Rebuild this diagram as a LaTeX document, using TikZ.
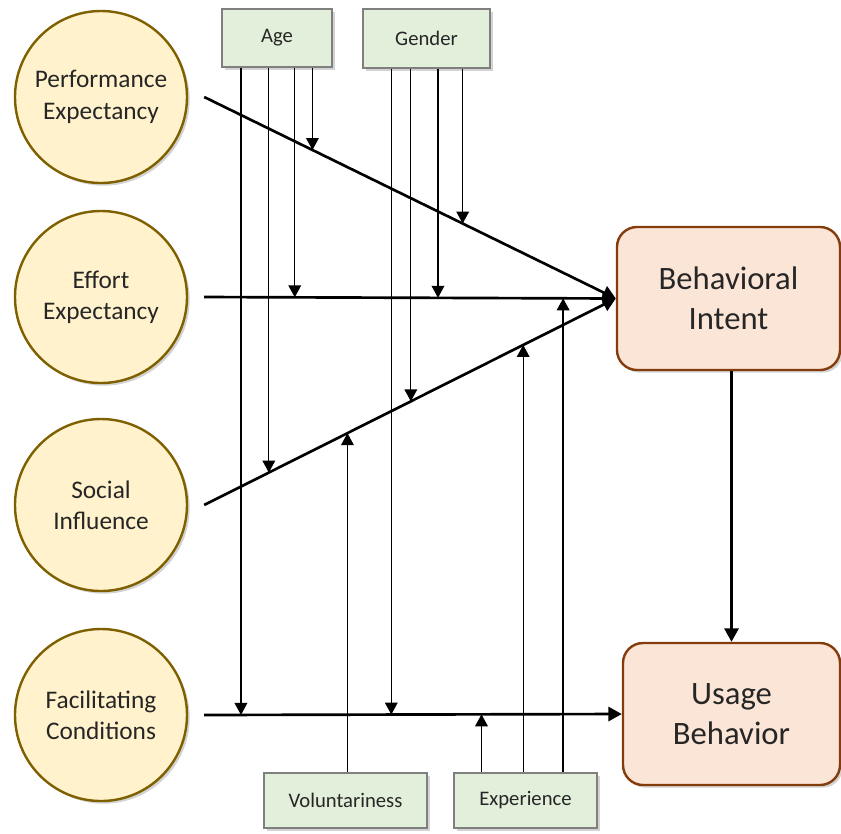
\documentclass[tikz,border=0pt]{standalone}
\usepackage{fontspec}
\setmainfont{Carlito}
\usetikzlibrary{arrows.meta,shadows,calc}
\definecolor{circfill}{HTML}{FFF2CC}
\definecolor{circdraw}{HTML}{7F6000}
\definecolor{modfill}{HTML}{E2EFDA}
\definecolor{moddraw}{HTML}{7F7F7F}
\definecolor{outfill}{HTML}{FBE5D6}
\definecolor{outdraw}{HTML}{843C0C}
\definecolor{txt}{HTML}{262626}
\tikzset{
  construct/.style={circle, fill=circfill, draw=circdraw, line width=1.8pt, minimum size=129pt, inner sep=0pt, align=center, text=txt, font=\fontsize{19}{23.5}\selectfont, drop shadow={opacity=0.35, shadow xshift=2pt, shadow yshift=-2pt}},
  modbox/.style={rectangle, fill=modfill, draw=moddraw, line width=2pt, inner sep=0pt, text=txt, font=\fontsize{15.5}{19}\selectfont, drop shadow={opacity=0.35, shadow xshift=2pt, shadow yshift=-2pt}},
  outbox/.style={rectangle, rounded corners=15pt, fill=outfill, draw=outdraw, line width=1.8pt, inner sep=0pt, align=center, text=txt, font=\fontsize{24.5}{30}\selectfont, drop shadow={opacity=0.35, shadow xshift=2pt, shadow yshift=-2pt}},
  mainarrow/.style={line width=2pt, -{Triangle[length=10pt,width=10.5pt]}},
  modarrow/.style={line width=1pt, -{Triangle[length=9pt,width=9.5pt]}},
}
\begin{document}
\begin{tikzpicture}[x=0.75pt,y=-0.75pt]
\useasboundingbox (0,0) rectangle (841,833);
% constructs
\node[construct] (PE) at (101,97) {Performance\\Expectancy};
\node[construct] (EE) at (101,297) {Effort\\Expectancy};
\node[construct] (SI) at (101,505) {Social\\Influence};
\node[construct] (FC) at (101,715) {Facilitating\\Conditions};
% moderators
\node[modbox, minimum width=82.5pt, minimum height=43.5pt] (Age) at (277,38) {Age};
\node[modbox, minimum width=95.25pt, minimum height=44.25pt] (Gen) at (426.5,38.5) {Gender};
\node[modbox, minimum width=122.25pt, minimum height=41.25pt] (Vol) at (345.5,800.5) {Voluntariness};
\node[modbox, minimum width=107.25pt, minimum height=41.25pt] (Exp) at (525.5,800.5) {Experience};
% outcomes
\node[outbox, minimum width=167.25pt, minimum height=107.25pt] (BI) at (728.5,298.5) {Behavioral\\Intent};
\node[outbox, minimum width=162.75pt, minimum height=106.5pt] (UB) at (731.5,714) {Usage\\Behavior};
% start points of main paths
\coordinate (pes) at ([xshift=12pt]PE.east);
\coordinate (ees) at ([xshift=12pt]EE.east);
\coordinate (sis) at ([xshift=12pt]SI.east);
\coordinate (fcs) at ([xshift=12pt]FC.east);
% moderation points
\coordinate (pA) at ($(pes)!0.263!(BI.west)$);
\coordinate (pG) at ($(pes)!0.628!(BI.west)$);
\coordinate (eA) at ($(ees)!0.220!(BI.west)$);
\coordinate (eG) at ($(ees)!0.568!(BI.west)$);
\coordinate (eX) at ($(ees)!0.872!(BI.west)$);
\coordinate (sA) at ($(sis)!0.157!(BI.west)$);
\coordinate (sG) at ($(sis)!0.502!(BI.west)$);
\coordinate (sV) at ($(sis)!0.348!(BI.west)$);
\coordinate (sX) at ($(sis)!0.775!(BI.west)$);
\coordinate (fA) at ($(fcs)!0.088!(UB.west)$);
\coordinate (fG) at ($(fcs)!0.448!(UB.west)$);
\coordinate (fX) at ($(fcs)!0.664!(UB.west)$);
% moderator arrows
\draw[modarrow] (pA |- Age.south) -- (pA);
\draw[modarrow] (eA |- Age.south) -- (eA);
\draw[modarrow] (sA |- Age.south) -- (sA);
\draw[modarrow] (fA |- Age.south) -- (fA);
\draw[modarrow] (pG |- Gen.south) -- (pG);
\draw[modarrow] (eG |- Gen.south) -- (eG);
\draw[modarrow] (sG |- Gen.south) -- (sG);
\draw[modarrow] (fG |- Gen.south) -- (fG);
\draw[modarrow] (sV |- Vol.north) -- (sV);
\draw[modarrow] (fX |- Exp.north) -- (fX);
\draw[modarrow] (sX |- Exp.north) -- (sX);
\draw[modarrow] (eX |- Exp.north) -- (eX);
% main paths
\draw[mainarrow] (pes) -- (BI.west);
\draw[mainarrow] (ees) -- (BI.west);
\draw[mainarrow] (sis) -- (BI.west);
\draw[mainarrow] (fcs) -- (UB.west);
\draw[mainarrow] (BI.south -| UB.north) -- (UB.north);
\end{tikzpicture}
\end{document}
